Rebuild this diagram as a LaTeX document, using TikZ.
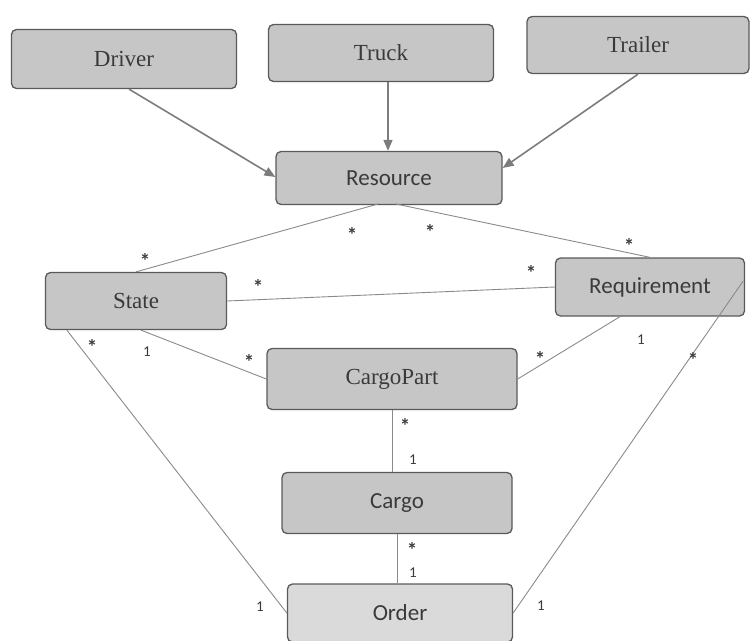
\documentclass[tikz,border=0pt]{standalone}
\usepackage{fontspec}
\setmainfont{Liberation Serif}
\newfontfamily\calib{Carlito}
\usetikzlibrary{arrows.meta}
\definecolor{boxfill}{HTML}{C6C6C6}
\definecolor{boxlight}{HTML}{DADADA}
\definecolor{boxline}{HTML}{5A5A5A}
\definecolor{lnk}{HTML}{8A8A8A}
\definecolor{txt}{HTML}{3A3A3A}
\tikzset{
  cls/.style={draw=boxline, line width=1.3pt, fill=boxfill, rounded corners=5pt, inner sep=0pt, text=txt, font=\fontsize{23}{26}\selectfont},
  serifcls/.style={cls},
  sanscls/.style={cls, font=\calib\fontsize{23}{26}\selectfont},
  gen/.style={draw=lnk!90!black, line width=1.6pt, -{Triangle[length=11pt,width=9pt]}},
  assoc/.style={draw=lnk, line width=0.9pt},
  mult/.style={font=\calib\fontsize{15}{17}\selectfont, text=txt, inner sep=0pt},
  star/.style={font=\calib\bfseries\fontsize{21}{23}\selectfont, text=txt, inner sep=0pt, yshift=-3.5pt}
}
\begin{document}
\begin{tikzpicture}[x=1pt,y=-1pt]
\useasboundingbox (0,0) rectangle (751,640);
% boxes
\node[serifcls, minimum width=225pt, minimum height=59pt] (driver) at (124,59) {Driver};
\node[serifcls, minimum width=225pt, minimum height=57pt] (truck) at (381,53) {Truck};
\node[serifcls, minimum width=222pt, minimum height=57pt] (trailer) at (638,45) {Trailer};
\node[sanscls, minimum width=226pt, minimum height=53pt] (resource) at (389,178) {Resource};
\node[serifcls, minimum width=181pt, minimum height=57pt] (state) at (136,301) {State};
\node[sanscls, minimum width=189pt, minimum height=58pt] (req) at (650,287) {Requirement};
\node[serifcls, minimum width=250pt, minimum height=61pt] (cargopart) at (392,379) {CargoPart};
\node[sanscls, minimum width=230pt, minimum height=61pt] (cargo) at (397,503) {Cargo};
\node[sanscls, fill=boxlight, minimum width=225pt, minimum height=58pt] (order) at (400,613) {Order};
% generalisation arrows
\draw[gen] (driver.south)+(5,0) -- (resource.west |- 0,177);
\draw[gen] (truck.south)+(7,0) -- (resource.north -| 388,0);
\draw[gen] (trailer.south) -- (resource.east |- 0,168);
% associations
\coordinate (rb1) at (378,204);
\coordinate (rb2) at (396,204);
\draw[assoc] (rb1) -- (state.north);
\draw[assoc] (rb2) -- (req.north);
\draw[assoc] (state.east) -- (req.west);
\draw[assoc] (state.south)+(5,0) -- (cargopart.west);
\draw[assoc] (req.south)+(-30,0) -- (cargopart.east);
\draw[assoc] (state.south west)+(22,0) -- (order.west);
\draw[assoc] (req.east)+(-2,-6) -- (order.east);
\draw[assoc] (cargopart.south) -- (cargo.north -| cargopart.south);
\draw[assoc] (cargo.south) -- (order.north -| cargo.south);
% multiplicities
\node[star] (m1) at (145,257) {*};
\node[star] (m2) at (352,231) {*};
\node[star] (m3) at (430,228) {*};
\node[star] (m4) at (629,242) {*};
\node[star] (m5) at (258,283) {*};
\node[star] (m6) at (531,269) {*};
\node[mult] (m7) at (147,352) {1};
\node[star] (m8) at (249,358) {*};
\node[star] (m9) at (540,355) {*};
\node[mult] (m10) at (641,340) {1};
\node[star] (m11) at (92,343) {*};
\node[star] (m12) at (693,356) {*};
\node[star] (m13) at (405,422) {*};
\node[mult] (m14) at (413,460) {1};
\node[star] (m15) at (412,546) {*};
\node[mult] (m16) at (413,573) {1};
\node[mult] (m17) at (260,607) {1};
\node[mult] (m18) at (541,606) {1};
\end{tikzpicture}
\end{document}
